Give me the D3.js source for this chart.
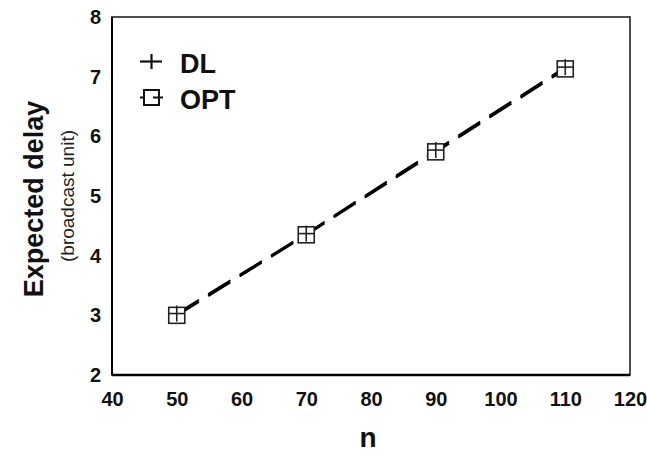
<!DOCTYPE html>
<html>
<head>
<meta charset="utf-8">
<script src="https://cdn.jsdelivr.net/npm/d3@7"></script>
<style>
  html, body { margin: 0; padding: 0; background: #fff; }
  svg { display: block; font-family: Arial, "Liberation Sans", Helvetica, sans-serif; }
</style>
</head>
<body>
<svg id="chart" width="647" height="457"></svg>
<script>
// ---- data ----
const nValues = [50, 70, 90, 110];
const dlDelay = [3.03, 4.37, 5.77, 7.16];
const optDelay = [3.00, 4.35, 5.74, 7.13];
const xTicks = [40, 50, 60, 70, 80, 90, 100, 110, 120];
const yTicks = [2, 3, 4, 5, 6, 7, 8];
const seriesNames = ["DL", "OPT"];

const svg = d3.select("#chart");
const m = { left: 112, right: 630, top: 17, bottom: 375 };

const x = d3.scaleLinear().domain([40, 120]).range([m.left, m.right]);
const y = d3.scaleLinear().domain([2, 8]).range([m.bottom, m.top]);

// frame
svg.append("rect")
  .attr("x", m.left).attr("y", m.top)
  .attr("width", m.right - m.left).attr("height", m.bottom - m.top)
  .attr("fill", "none").attr("stroke", "#222").attr("stroke-width", 1.6);
svg.append("line")
  .attr("x1", m.left).attr("x2", m.right).attr("y1", m.bottom).attr("y2", m.bottom)
  .attr("stroke", "#000").attr("stroke-width", 2.6);
svg.append("line")
  .attr("x1", m.left).attr("x2", m.left).attr("y1", m.top).attr("y2", m.bottom)
  .attr("stroke", "#000").attr("stroke-width", 2);

// axes (labels only, no tick marks)
const xAxis = svg.append("g")
  .attr("transform", `translate(0,${m.bottom})`)
  .call(d3.axisBottom(x).tickValues(xTicks).tickSize(0).tickPadding(17).tickFormat(d3.format("d")));
xAxis.select(".domain").remove();
xAxis.selectAll("text")
  .attr("font-size", 20).attr("font-weight", "bold").attr("fill", "#111")
  .attr("font-family", "Arial, 'Liberation Sans', sans-serif");

const yAxis = svg.append("g")
  .attr("transform", `translate(${m.left},0)`)
  .call(d3.axisLeft(y).tickValues(yTicks).tickSize(0).tickPadding(11).tickFormat(d3.format("d")));
yAxis.select(".domain").remove();
yAxis.selectAll("text")
  .attr("font-size", 20).attr("font-weight", "bold").attr("fill", "#111")
  .attr("font-family", "Arial, 'Liberation Sans', sans-serif");

// axis titles
svg.append("text")
  .attr("x", (m.left + m.right) / 2 - 3).attr("y", 447)
  .attr("text-anchor", "middle")
  .attr("font-size", 28).attr("font-weight", "bold").attr("fill", "#111")
  .text("n");

svg.append("text")
  .attr("transform", "translate(43,199) rotate(-90)")
  .attr("text-anchor", "middle")
  .attr("font-size", 27).attr("font-weight", "bold").attr("fill", "#111")
  .text("Expected delay");

svg.append("text")
  .attr("transform", "translate(74,196) rotate(-90)")
  .attr("text-anchor", "middle")
  .attr("font-size", 19).attr("fill", "#222")
  .text("(broadcast unit)");

// lines
const line = d3.line().x(d => x(d[0])).y(d => y(d[1]));
const dlPts = nValues.map((n, i) => [n, dlDelay[i]]);
const optPts = nValues.map((n, i) => [n, optDelay[i]]);

svg.append("path").datum(optPts)
  .attr("d", line).attr("fill", "none")
  .attr("stroke", "#000").attr("stroke-width", 2.6)
  .attr("stroke-dasharray", "26,11");
svg.append("path").datum(dlPts)
  .attr("d", line).attr("fill", "none")
  .attr("stroke", "#000").attr("stroke-width", 2)
  .attr("stroke-dasharray", "26,11");

// OPT markers: squares
svg.selectAll("rect.opt").data(optPts).enter().append("rect")
  .attr("class", "opt")
  .attr("x", d => x(d[0]) - 8).attr("y", d => y(d[1]) - 8)
  .attr("width", 16).attr("height", 16)
  .attr("fill", "#fff").attr("stroke", "#222").attr("stroke-width", 1.6);

// DL markers: plus
const plus = svg.selectAll("g.dl").data(dlPts).enter().append("g")
  .attr("class", "dl")
  .attr("transform", d => `translate(${x(d[0])},${y(d[1])})`);
plus.append("line").attr("x1", -8).attr("x2", 8).attr("y1", 0).attr("y2", 0)
  .attr("stroke", "#222").attr("stroke-width", 1.6);
plus.append("line").attr("x1", 0).attr("x2", 0).attr("y1", -8).attr("y2", 8)
  .attr("stroke", "#222").attr("stroke-width", 1.6);

// legend
const leg = svg.append("g");
// DL symbol
leg.append("line").attr("x1", 140).attr("x2", 162).attr("y1", 61.5).attr("y2", 61.5)
  .attr("stroke", "#111").attr("stroke-width", 2.2);
leg.append("line").attr("x1", 151.5).attr("x2", 151.5).attr("y1", 54).attr("y2", 69)
  .attr("stroke", "#111").attr("stroke-width", 2.2);
leg.append("text").attr("x", 180).attr("y", 73)
  .attr("font-size", 27).attr("font-weight", "bold").attr("fill", "#111")
  .text(seriesNames[0]);
// OPT symbol
leg.append("rect").attr("x", 144).attr("y", 90).attr("width", 15).attr("height", 15)
  .attr("fill", "none").attr("stroke", "#111").attr("stroke-width", 2);
leg.append("line").attr("x1", 140).attr("x2", 144).attr("y1", 97.5).attr("y2", 97.5)
  .attr("stroke", "#111").attr("stroke-width", 2);
leg.append("line").attr("x1", 153).attr("x2", 163).attr("y1", 97.5).attr("y2", 97.5)
  .attr("stroke", "#111").attr("stroke-width", 2);
leg.append("text").attr("x", 180).attr("y", 109)
  .attr("font-size", 27).attr("font-weight", "bold").attr("fill", "#111")
  .text(seriesNames[1]);
</script>
</body>
</html>
